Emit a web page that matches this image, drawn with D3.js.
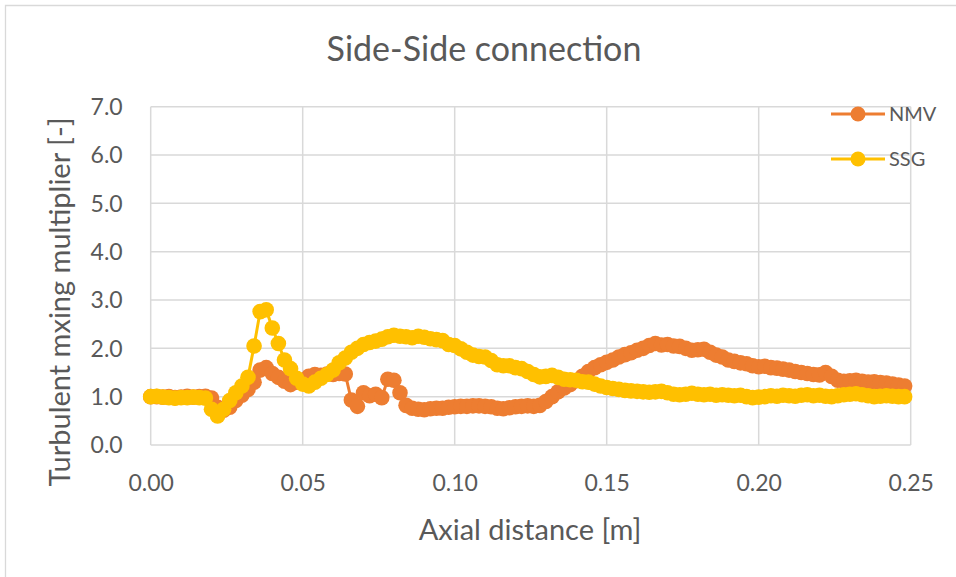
<!DOCTYPE html>
<html>
<head>
<meta charset="utf-8">
<script src="https://cdn.jsdelivr.net/npm/d3@7/dist/d3.min.js"></script>
<style>
  html, body { margin: 0; padding: 0; background: #fff; }
  svg { display: block; }
  text { font-family: Lato, "Open Sans", sans-serif; fill: #595959; }
</style>
</head>
<body>
<svg id="chart" width="956" height="577"></svg>
<script>
// Axial positions in millimetres (shared by both series)
const axialMm = [
  0, 2, 4, 6, 8, 10, 12, 14, 16, 18,
  20, 22, 24, 26, 28, 30, 32, 34, 36, 38,
  40, 42, 44, 46, 48, 50, 52, 54, 56, 58,
  60, 62, 64, 66, 68, 70, 72, 74, 76, 78,
  80, 82, 84, 86, 88, 90, 92, 94, 96, 98,
  100, 102, 104, 106, 108, 110, 112, 114, 116, 118,
  120, 122, 124, 126, 128, 130, 132, 134, 136, 138,
  140, 142, 144, 146, 148, 150, 152, 154, 156, 158,
  160, 162, 164, 166, 168, 170, 172, 174, 176, 178,
  180, 182, 184, 186, 188, 190, 192, 194, 196, 198,
  200, 202, 204, 206, 208, 210, 212, 214, 216, 218,
  220, 222, 224, 226, 228, 230, 232, 234, 236, 238,
  240, 242, 244, 246, 248
];

const nmv = [
  1.00, 1.00, 0.99, 1.00, 0.98, 0.99, 1.01, 0.99, 1.00, 1.01,
  0.97, 0.78, 0.72, 0.78, 0.92, 1.03, 1.15, 1.30, 1.55, 1.60,
  1.48, 1.40, 1.32, 1.25, 1.30, 1.34, 1.42, 1.46, 1.44, 1.47,
  1.46, 1.48, 1.47, 0.93, 0.80, 1.08, 1.02, 1.05, 0.98, 1.36,
  1.34, 1.08, 0.82, 0.76, 0.74, 0.73, 0.75, 0.76, 0.76, 0.78,
  0.79, 0.80, 0.80, 0.81, 0.81, 0.80, 0.79, 0.76, 0.75, 0.77,
  0.79, 0.80, 0.81, 0.80, 0.82, 0.90, 1.00, 1.10, 1.18, 1.25,
  1.33, 1.42, 1.52, 1.60, 1.66, 1.71, 1.76, 1.82, 1.87, 1.91,
  1.96, 2.00, 2.06, 2.10, 2.07, 2.08, 2.05, 2.04, 2.00, 1.96,
  1.97, 1.98, 1.92, 1.86, 1.82, 1.76, 1.73, 1.70, 1.68, 1.64,
  1.62, 1.63, 1.60, 1.59, 1.57, 1.55, 1.52, 1.50, 1.48, 1.46,
  1.45, 1.50, 1.42, 1.34, 1.32, 1.33, 1.34, 1.32, 1.30, 1.31,
  1.29, 1.28, 1.26, 1.24, 1.22
];

const ssg = [
  1.00, 1.01, 0.99, 0.98, 0.97, 0.98, 0.98, 0.99, 0.98, 0.97,
  0.74, 0.60, 0.74, 0.92, 1.08, 1.22, 1.40, 2.05, 2.76, 2.80,
  2.42, 2.10, 1.76, 1.58, 1.38, 1.26, 1.22, 1.30, 1.38, 1.46,
  1.55, 1.70, 1.80, 1.92, 2.00, 2.08, 2.12, 2.15, 2.19, 2.24,
  2.27, 2.25, 2.24, 2.22, 2.25, 2.23, 2.20, 2.18, 2.16, 2.08,
  2.06, 1.99, 1.92, 1.86, 1.83, 1.82, 1.75, 1.66, 1.64, 1.64,
  1.60, 1.58, 1.52, 1.46, 1.41, 1.42, 1.44, 1.40, 1.36, 1.35,
  1.34, 1.31, 1.30, 1.26, 1.22, 1.19, 1.17, 1.15, 1.13, 1.12,
  1.11, 1.10, 1.09, 1.10, 1.11, 1.08, 1.05, 1.04, 1.05, 1.07,
  1.05, 1.04, 1.05, 1.03, 1.04, 1.03, 1.02, 1.03, 1.00, 0.98,
  0.99, 1.00, 1.02, 1.01, 1.03, 1.02, 1.01, 1.03, 1.04, 1.02,
  1.03, 1.01, 1.00, 1.02, 1.04, 1.05, 1.06, 1.04, 1.02, 1.00,
  1.01, 1.02, 1.01, 1.00, 1.00
];

const xTicks = [0.00, 0.05, 0.10, 0.15, 0.20, 0.25];
const yTicks = [0, 1, 2, 3, 4, 5, 6, 7];

const seriesList = [
  { name: "NMV", values: nmv, color: "#ED7D31" },
  { name: "SSG", values: ssg, color: "#FFC000" }
];

const svg = d3.select("#chart");
const plot = { left: 150.7, right: 910.7, top: 106.7, bottom: 445 };

const x = d3.scaleLinear().domain([0, 0.25]).range([plot.left, plot.right]);
const y = d3.scaleLinear().domain([0, 7]).range([plot.bottom, plot.top]);

// Outer chart frame (top and left edges)
svg.append("path")
  .attr("d", "M5.5,577 V5.5 H956")
  .attr("fill", "none")
  .attr("stroke", "#D9D9D9")
  .attr("stroke-width", 1.3);

// Gridlines
const grid = svg.append("g").attr("stroke", "#D9D9D9").attr("stroke-width", 1.5);
grid.selectAll(".gy").data(yTicks).join("line")
  .attr("x1", plot.left).attr("x2", plot.right)
  .attr("y1", d => y(d)).attr("y2", d => y(d));
grid.selectAll(".gx").data(xTicks).join("line")
  .attr("x1", d => x(d)).attr("x2", d => x(d))
  .attr("y1", plot.top).attr("y2", plot.bottom);

// Axes with tick labels only
const xAxis = svg.append("g")
  .attr("transform", `translate(0,${plot.bottom})`)
  .call(d3.axisBottom(x).tickValues(xTicks).tickFormat(d3.format(".2f")).tickSize(0).tickPadding(30));
const yAxis = svg.append("g")
  .attr("transform", `translate(${plot.left},0)`)
  .call(d3.axisLeft(y).tickValues(yTicks).tickFormat(d3.format(".1f")).tickSize(0).tickPadding(28));
[xAxis, yAxis].forEach(a => {
  a.select(".domain").remove();
  a.selectAll("text").attr("font-size", 23).attr("fill", "#595959")
    .style("font-family", "Lato, 'Open Sans', sans-serif");
});
yAxis.selectAll("text").attr("dy", "0.34em");

// Series: line plus circular markers
const line = d3.line()
  .x((d, i) => x(axialMm[i] / 1000))
  .y(d => y(d));

seriesList.forEach(s => {
  const g = svg.append("g");
  g.append("path")
    .datum(s.values)
    .attr("d", line)
    .attr("fill", "none")
    .attr("stroke", s.color)
    .attr("stroke-width", 3);
  g.selectAll("circle").data(s.values).join("circle")
    .attr("cx", (d, i) => x(axialMm[i] / 1000))
    .attr("cy", d => y(d))
    .attr("r", 7.8)
    .attr("fill", s.color);
});

// Legend
const legend = svg.append("g");
seriesList.forEach((s, i) => {
  const ly = 114 + i * 45;
  legend.append("line")
    .attr("x1", 831).attr("x2", 885).attr("y1", ly).attr("y2", ly)
    .attr("stroke", s.color).attr("stroke-width", 3);
  legend.append("circle")
    .attr("cx", 858).attr("cy", ly).attr("r", 7.5).attr("fill", s.color);
  legend.append("text")
    .attr("x", 889).attr("y", ly).attr("dy", "0.36em")
    .attr("font-size", 20)
    .text(s.name);
});

// Titles
svg.append("text")
  .attr("x", 484).attr("y", 61)
  .attr("text-anchor", "middle")
  .attr("font-size", 34)
  .text("Side-Side connection");

svg.append("text")
  .attr("x", 530).attr("y", 540)
  .attr("text-anchor", "middle")
  .attr("font-size", 29)
  .text("Axial distance [m]");

svg.append("text")
  .attr("transform", "translate(70,302) rotate(-90)")
  .attr("text-anchor", "middle")
  .attr("font-size", 29)
  .text("Turbulent mxing multiplier [-]");
</script>
</body>
</html>
